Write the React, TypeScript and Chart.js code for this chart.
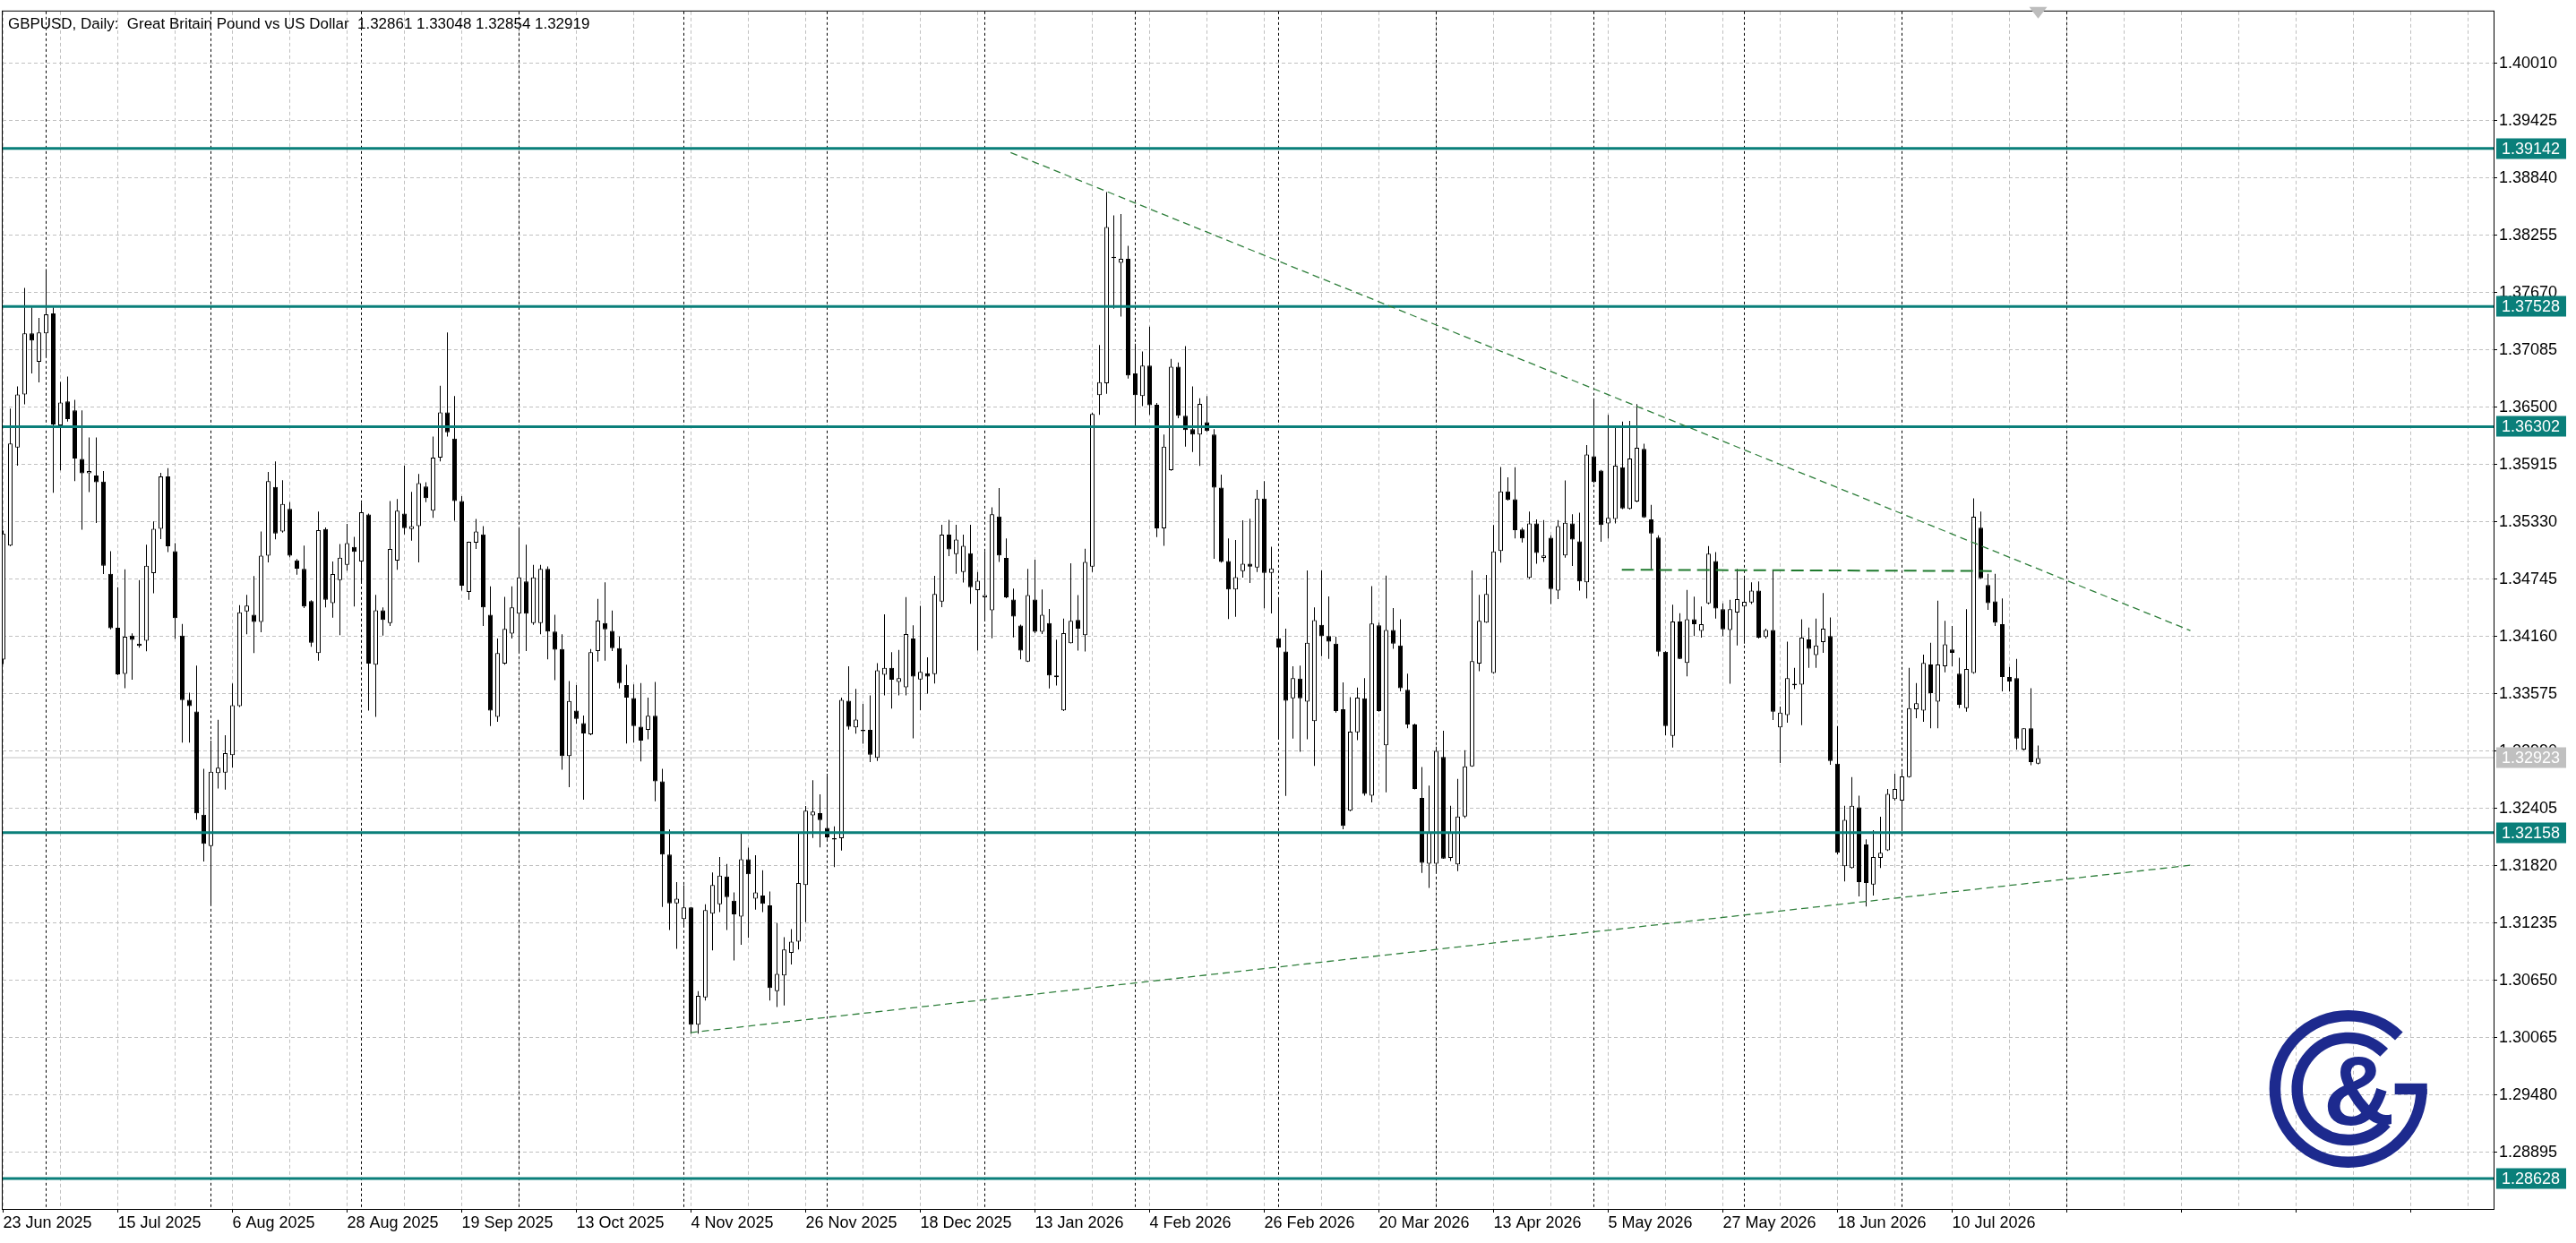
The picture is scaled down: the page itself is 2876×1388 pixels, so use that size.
import React, { useEffect, useRef } from 'react';
import { Chart, registerables } from 'chart.js';

Chart.register(...registerables);

// ---------- DATA (daily GBPUSD candles, bar index 0 = 23 Jun 2025) ----------
const opens = [
  1.33924, 1.35088, 1.36088, 1.36630, 1.37255, 1.36964, 1.37255, 1.37458, 1.36314, 1.36560,
  1.36468, 1.35971, 1.35827, 1.35802, 1.35741, 1.34800, 1.34249, 1.33779, 1.34169, 1.34086,
  1.34117, 1.34806, 1.35260, 1.35793, 1.35030, 1.34169, 1.33514, 1.33395, 1.32341, 1.32022,
  1.32766, 1.32770, 1.32949, 1.33450, 1.34416, 1.34381, 1.34309, 1.34985, 1.35687, 1.35232,
  1.35462, 1.34938, 1.34849, 1.34522, 1.33990, 1.35257, 1.34501, 1.34735, 1.34892, 1.35075,
  1.34926, 1.35406, 1.33871, 1.34428, 1.34296, 1.34934, 1.35415, 1.35257, 1.35287, 1.35691,
  1.35444, 1.35985, 1.36448, 1.36180, 1.35542, 1.34615, 1.35117, 1.35202, 1.34381, 1.33340,
  1.33884, 1.34190, 1.34394, 1.34722, 1.34296, 1.34296, 1.34849, 1.34211, 1.34033, 1.32940,
  1.33403, 1.33276, 1.33161, 1.34012, 1.34296, 1.34216, 1.34041, 1.33663, 1.33531, 1.33238,
  1.33206, 1.33350, 1.32681, 1.31934, 1.31437, 1.31277, 1.31395, 1.30197, 1.30476, 1.31331,
  1.31427, 1.31710, 1.31463, 1.31302, 1.31886, 1.31485, 1.31517, 1.31415, 1.30540, 1.30700,
  1.30931, 1.31046, 1.31623, 1.32334, 1.32357, 1.32206, 1.32101, 1.32101, 1.33504, 1.33232,
  1.33206, 1.33206, 1.32921, 1.33770, 1.33841, 1.33697, 1.33642, 1.34139, 1.33722, 1.33786,
  1.33777, 1.34517, 1.35200, 1.35000, 1.34819, 1.35010, 1.34632, 1.34560, 1.34427, 1.35385,
  1.34961, 1.34538, 1.34271, 1.33905, 1.34538, 1.34208, 1.34297, 1.33745, 1.33406, 1.34092,
  1.34329, 1.34173, 1.34872, 1.36623, 1.36744, 1.38036, 1.37974, 1.38014, 1.36846, 1.36614,
  1.36926, 1.36525, 1.35264, 1.35857, 1.36913, 1.36414, 1.36276, 1.36222, 1.36347, 1.36222,
  1.35679, 1.34930, 1.34640, 1.34828, 1.34903, 1.34863, 1.35567, 1.34810, 1.34141, 1.34008,
  1.33530, 1.33730, 1.33496, 1.33297, 1.34278, 1.34165, 1.34086, 1.33417, 1.32382, 1.33181,
  1.33530, 1.32536, 1.34275, 1.33050, 1.34227, 1.34069, 1.33616, 1.33263, 1.32512, 1.31840,
  1.31840, 1.32930, 1.31901, 1.31833, 1.32323, 1.32834, 1.33884, 1.34302, 1.33788, 1.35033,
  1.35640, 1.35561, 1.35252, 1.34758, 1.35314, 1.34961, 1.35167, 1.34628, 1.34988, 1.35314,
  1.35132, 1.34714, 1.36000, 1.35853, 1.35314, 1.35359, 1.35887, 1.35462, 1.35537, 1.36076,
  1.35355, 1.35170, 1.34004, 1.33146, 1.34313, 1.33891, 1.34336, 1.34217, 1.34498, 1.34930,
  1.34439, 1.34227, 1.34405, 1.34467, 1.34508, 1.34628, 1.34155, 1.34227, 1.33232, 1.33359,
  1.33678, 1.33668, 1.34131, 1.33970, 1.34103, 1.34165, 1.32862, 1.31816, 1.31798, 1.32416,
  1.32038, 1.31627, 1.31901, 1.31977, 1.32502, 1.32484, 1.32724, 1.33417, 1.33404, 1.33874,
  1.33496, 1.33856, 1.34028, 1.33781, 1.33428, 1.33788, 1.35270, 1.34686, 1.34518, 1.34285,
  1.33747, 1.33736, 1.33006, 1.33222, 1.32861,
];

const highs = [
  1.35240, 1.36486, 1.36713, 1.37718, 1.37519, 1.37412, 1.37911, 1.37519, 1.36759, 1.36814,
  1.36575, 1.36468, 1.36192, 1.36192, 1.35848, 1.35030, 1.34662, 1.34846, 1.34193, 1.34736,
  1.35098, 1.35334, 1.35830, 1.35879, 1.35113, 1.34288, 1.33586, 1.33863, 1.32809, 1.33097,
  1.33310, 1.33153, 1.33680, 1.34479, 1.34586, 1.34777, 1.35232, 1.35840, 1.35946, 1.35755,
  1.35530, 1.34950, 1.35087, 1.34530, 1.35436, 1.35274, 1.34926, 1.35104, 1.35309, 1.35177,
  1.35521, 1.35415, 1.34586, 1.34458, 1.35542, 1.35564, 1.35904, 1.35636, 1.35819, 1.35734,
  1.36201, 1.36720, 1.37264, 1.36614, 1.35593, 1.35130, 1.35359, 1.35287, 1.34671, 1.34139,
  1.34564, 1.34671, 1.35266, 1.35096, 1.34892, 1.34892, 1.34875, 1.34381, 1.34182, 1.33706,
  1.33663, 1.33353, 1.34033, 1.34543, 1.34713, 1.34424, 1.34160, 1.33871, 1.33672, 1.33684,
  1.33536, 1.33697, 1.32809, 1.32190, 1.31652, 1.31620, 1.31400, 1.30540, 1.31427, 1.31751,
  1.31908, 1.31838, 1.31549, 1.32152, 1.32004, 1.31927, 1.31774, 1.31556, 1.31235, 1.31091,
  1.31174, 1.32149, 1.32431, 1.32693, 1.32549, 1.32758, 1.32222, 1.33536, 1.33857, 1.33626,
  1.33472, 1.33559, 1.33889, 1.34386, 1.34001, 1.34023, 1.34562, 1.34274, 1.34472, 1.33947,
  1.34780, 1.35300, 1.35350, 1.35300, 1.35200, 1.35300, 1.34819, 1.35028, 1.35478, 1.35674,
  1.35162, 1.34649, 1.34280, 1.34850, 1.34943, 1.34640, 1.34440, 1.34128, 1.34342, 1.34908,
  1.34583, 1.35055, 1.36445, 1.37136, 1.38695, 1.38459, 1.38472, 1.38147, 1.37149, 1.37069,
  1.37323, 1.36543, 1.36222, 1.36993, 1.36958, 1.37123, 1.36713, 1.36592, 1.36614, 1.36276,
  1.35812, 1.35162, 1.35144, 1.35345, 1.35362, 1.35657, 1.35746, 1.35077, 1.34551, 1.34239,
  1.33856, 1.33863, 1.34834, 1.34457, 1.34834, 1.34570, 1.34158, 1.33692, 1.33541, 1.33640,
  1.33736, 1.34673, 1.34302, 1.34782, 1.34450, 1.34337, 1.33781, 1.33270, 1.32827, 1.32639,
  1.33033, 1.33198, 1.32433, 1.32707, 1.32999, 1.34834, 1.34584, 1.34789, 1.35297, 1.35890,
  1.35784, 1.35887, 1.35270, 1.35434, 1.35355, 1.35348, 1.35194, 1.35348, 1.35753, 1.35407,
  1.35424, 1.36113, 1.36583, 1.35860, 1.36422, 1.36309, 1.36353, 1.36360, 1.36532, 1.36127,
  1.35503, 1.35194, 1.34010, 1.34484, 1.34398, 1.34635, 1.34566, 1.34467, 1.35084, 1.35022,
  1.34498, 1.34535, 1.34851, 1.34765, 1.34714, 1.34721, 1.34241, 1.34834, 1.33445, 1.34107,
  1.33839, 1.34336, 1.34251, 1.34343, 1.34604, 1.34354, 1.33246, 1.32433, 1.32724, 1.32536,
  1.32090, 1.32183, 1.32320, 1.32604, 1.32759, 1.32793, 1.33839, 1.33685, 1.33976, 1.34097,
  1.34525, 1.34319, 1.34268, 1.33942, 1.34439, 1.35571, 1.35434, 1.34800, 1.34800, 1.34549,
  1.33850, 1.33932, 1.33222, 1.33633, 1.33048,
];

const lows = [
  1.33880, 1.35080, 1.35904, 1.36529, 1.36845, 1.36753, 1.37013, 1.35628, 1.35855, 1.36354,
  1.35747, 1.35251, 1.35634, 1.35318, 1.34797, 1.34233, 1.33764, 1.33632, 1.33718, 1.34046,
  1.34010, 1.34601, 1.35153, 1.35021, 1.34138, 1.33076, 1.33076, 1.32290, 1.31864, 1.31418,
  1.32608, 1.32596, 1.32821, 1.33440, 1.34182, 1.33990, 1.34203, 1.34917, 1.35151, 1.35220,
  1.34970, 1.34790, 1.34450, 1.34054, 1.33914, 1.34458, 1.34352, 1.34173, 1.34832, 1.34467,
  1.34700, 1.33403, 1.33340, 1.34169, 1.34267, 1.34841, 1.35202, 1.35138, 1.34917, 1.35530,
  1.35372, 1.35946, 1.36201, 1.35342, 1.34628, 1.34535, 1.35053, 1.34267, 1.33246, 1.33289,
  1.33871, 1.34139, 1.34012, 1.34012, 1.34279, 1.34182, 1.33927, 1.33714, 1.32800, 1.32621,
  1.33268, 1.32494, 1.33153, 1.33905, 1.33914, 1.34012, 1.33629, 1.33068, 1.33076, 1.32885,
  1.33110, 1.32479, 1.31399, 1.31165, 1.30972, 1.31200, 1.30107, 1.30107, 1.30444, 1.30956,
  1.31347, 1.31165, 1.30854, 1.31014, 1.31085, 1.31373, 1.31347, 1.30444, 1.30379, 1.30395,
  1.30812, 1.30966, 1.31245, 1.32104, 1.32008, 1.32094, 1.31806, 1.31976, 1.33209, 1.33168,
  1.33065, 1.32879, 1.32889, 1.33559, 1.33424, 1.33559, 1.33559, 1.33120, 1.33408, 1.33578,
  1.33681, 1.34460, 1.34980, 1.34800, 1.34710, 1.34493, 1.34017, 1.34315, 1.34141, 1.34921,
  1.34550, 1.34150, 1.33928, 1.33900, 1.34195, 1.34186, 1.33629, 1.33660, 1.33400, 1.34090,
  1.34017, 1.34008, 1.34819, 1.36423, 1.36637, 1.37506, 1.37426, 1.36793, 1.36311, 1.36512,
  1.36423, 1.35175, 1.35086, 1.35850, 1.36387, 1.36098, 1.36044, 1.35902, 1.36250, 1.34953,
  1.34915, 1.34338, 1.34360, 1.34761, 1.34707, 1.34819, 1.34449, 1.34395, 1.33112, 1.32533,
  1.33119, 1.32982, 1.33112, 1.32838, 1.33959, 1.33932, 1.33383, 1.32193, 1.32375, 1.33102,
  1.32536, 1.32467, 1.33393, 1.32570, 1.34035, 1.33599, 1.33222, 1.32600, 1.31747, 1.31593,
  1.31747, 1.31890, 1.31867, 1.31764, 1.32306, 1.32830, 1.33805, 1.34300, 1.33780, 1.34913,
  1.35548, 1.35160, 1.35120, 1.34748, 1.34903, 1.34920, 1.34491, 1.34542, 1.34964, 1.34879,
  1.34628, 1.34549, 1.35726, 1.35126, 1.35160, 1.35314, 1.35460, 1.35455, 1.35530, 1.35370,
  1.34851, 1.33959, 1.33153, 1.33026, 1.33930, 1.33753, 1.34165, 1.34148, 1.34490, 1.34343,
  1.34165, 1.33678, 1.34069, 1.34086, 1.34491, 1.34140, 1.34140, 1.33307, 1.32868, 1.33280,
  1.33623, 1.33256, 1.33839, 1.33839, 1.33993, 1.32850, 1.31936, 1.31661, 1.31790, 1.31507,
  1.31404, 1.31517, 1.31798, 1.31970, 1.32484, 1.32176, 1.32720, 1.33325, 1.33290, 1.33222,
  1.33222, 1.33795, 1.33856, 1.33428, 1.33393, 1.33780, 1.34750, 1.34433, 1.34268, 1.33599,
  1.33600, 1.33006, 1.32999, 1.32845, 1.32854,
];

const closes = [
  1.35211, 1.36130, 1.36630, 1.37255, 1.37182, 1.37264, 1.37448, 1.36324, 1.36547, 1.36379,
  1.35977, 1.35827, 1.35848, 1.35735, 1.34883, 1.34245, 1.33773, 1.34157, 1.34126, 1.34065,
  1.34883, 1.35260, 1.35793, 1.35082, 1.34347, 1.33510, 1.33450, 1.32354, 1.32043, 1.32779,
  1.32821, 1.32970, 1.33459, 1.34407, 1.34475, 1.34309, 1.34985, 1.35746, 1.35211, 1.35513,
  1.34985, 1.34853, 1.34467, 1.34097, 1.35245, 1.34535, 1.34798, 1.34964, 1.35113, 1.35024,
  1.35428, 1.33884, 1.34428, 1.34330, 1.35053, 1.35444, 1.35266, 1.35287, 1.35725, 1.35572,
  1.35985, 1.36448, 1.36244, 1.35542, 1.34679, 1.35126, 1.35232, 1.34458, 1.33403, 1.33990,
  1.34237, 1.34458, 1.34764, 1.34394, 1.34764, 1.34849, 1.34211, 1.34024, 1.32940, 1.33501,
  1.33318, 1.33170, 1.33999, 1.34322, 1.34233, 1.34041, 1.33684, 1.33535, 1.33246, 1.33097,
  1.33350, 1.32681, 1.31934, 1.31437, 1.31485, 1.31395, 1.30197, 1.30492, 1.31367, 1.31623,
  1.31719, 1.31501, 1.31325, 1.31886, 1.31732, 1.31549, 1.31431, 1.30572, 1.30716, 1.30966,
  1.31046, 1.31645, 1.32383, 1.32373, 1.32286, 1.32110, 1.32088, 1.33514, 1.33238, 1.33312,
  1.33193, 1.32953, 1.33815, 1.33841, 1.33719, 1.33735, 1.34184, 1.33751, 1.33799, 1.33751,
  1.34594, 1.35200, 1.35050, 1.35150, 1.35086, 1.34663, 1.34730, 1.34583, 1.35407, 1.34988,
  1.34560, 1.34364, 1.34017, 1.34583, 1.34208, 1.34382, 1.33763, 1.33763, 1.34195, 1.34320,
  1.34239, 1.34921, 1.36432, 1.36757, 1.38339, 1.38023, 1.38014, 1.36824, 1.36623, 1.36926,
  1.36521, 1.35264, 1.36098, 1.36913, 1.36414, 1.36267, 1.36222, 1.36534, 1.36258, 1.35679,
  1.34921, 1.34640, 1.34765, 1.34903, 1.34872, 1.35567, 1.34810, 1.34855, 1.34048, 1.33504,
  1.33736, 1.33530, 1.34097, 1.34326, 1.34165, 1.34107, 1.33400, 1.32227, 1.33188, 1.33537,
  1.32553, 1.34292, 1.33400, 1.34227, 1.34086, 1.33633, 1.33263, 1.32604, 1.31850, 1.32159,
  1.32992, 1.31894, 1.32159, 1.32323, 1.32834, 1.33908, 1.34319, 1.34594, 1.35029, 1.35640,
  1.35554, 1.35246, 1.35160, 1.35314, 1.35012, 1.34988, 1.34645, 1.35287, 1.35321, 1.35150,
  1.34721, 1.36017, 1.35736, 1.35297, 1.35372, 1.35904, 1.35468, 1.35976, 1.36086, 1.35376,
  1.35211, 1.34004, 1.33246, 1.34313, 1.33932, 1.34336, 1.34285, 1.34285, 1.35005, 1.34446,
  1.34234, 1.34439, 1.34542, 1.34515, 1.34628, 1.34148, 1.34227, 1.33393, 1.33383, 1.33736,
  1.33661, 1.34148, 1.34035, 1.34069, 1.34241, 1.32889, 1.31953, 1.32289, 1.32433, 1.31654,
  1.31644, 1.31908, 1.31953, 1.32553, 1.32604, 1.32731, 1.33428, 1.33479, 1.33891, 1.33582,
  1.33874, 1.34079, 1.33993, 1.33462, 1.33829, 1.35383, 1.34755, 1.34501, 1.34302, 1.33747,
  1.33700, 1.33119, 1.33222, 1.32879, 1.32919,
];

// x-axis date labels, one every BARS_PER_LABEL bars starting at bar 0
const xTickLabels = [
  '23 Jun 2025', '15 Jul 2025', '6 Aug 2025', '28 Aug 2025', '19 Sep 2025', '13 Oct 2025',
  '4 Nov 2025', '26 Nov 2025', '18 Dec 2025', '13 Jan 2026', '4 Feb 2026', '26 Feb 2026',
  '20 Mar 2026', '13 Apr 2026', '5 May 2026', '27 May 2026', '18 Jun 2026', '10 Jul 2026',
];
const BARS_PER_LABEL = 16;
const BARS_PER_GRID = 8;
const GRID_LINE_COUNT = 44;

const yTickValues = [
  1.28895, 1.29480, 1.30065, 1.30650, 1.31235, 1.31820, 1.32405, 1.32990, 1.33575, 1.34160,
  1.34745, 1.35330, 1.35915, 1.36500, 1.37085, 1.37670, 1.38255, 1.38840, 1.39425, 1.40010,
];

// horizontal support / resistance levels
const levelPrices = [1.39142, 1.37528, 1.36302, 1.32158, 1.28628];
const bidPrice = 1.32923;

// first bar of each month (period separators)
const monthStartBars = [6, 29, 50, 72, 95, 115, 137, 158, 178, 200, 222, 243, 265, 288];

// trend lines (bar index, price)
const trendDown = [{ x: 140.6, y: 1.3910 }, { x: 305.25, y: 1.3422 }];
const trendUp = [{ x: 95.9, y: 1.30117 }, { x: 305.25, y: 1.31825 }];
const flatLine = [{ x: 225.9, y: 1.34841 }, { x: 278, y: 1.34828 }];

const titleText = 'GBPUSD, Daily:  Great Britain Pound vs US Dollar  1.32861 1.33048 1.32854 1.32919';

// ---------- STYLE ----------
const X_MIN = -0.0625;
const X_MAX = 347.5625;
const Y_MIN = 1.283167;
const Y_MAX = 1.405398;
const FONT = "'Liberation Sans', Arial, sans-serif";
const TEAL = '#0a7f7a';
const GRID = '#c0c0c0';
const NAVY = '#1d2a8e';
const TREND = '#2f7f3c';
const TITLE_WIDTH = 650;

const overlayPlugin = {
  id: 'mtOverlay',
  beforeDraw(chart: any) {
    const { ctx, width, height } = chart;
    ctx.save();
    ctx.fillStyle = '#ffffff';
    ctx.fillRect(0, 0, width, height);
    ctx.restore();
  },
  beforeDatasetsDraw(chart: any) {
    const { ctx, chartArea: a, scales } = chart;
    const xs = scales.x;
    ctx.save();
    ctx.beginPath();
    ctx.rect(a.left, a.top, a.right - a.left, a.bottom - a.top);
    ctx.clip();
    ctx.strokeStyle = '#000000';
    ctx.lineWidth = 1;
    ctx.setLineDash([3, 3]);
    monthStartBars.forEach((b) => {
      const px = Math.floor(xs.getPixelForValue(b)) + 0.5;
      ctx.beginPath();
      ctx.moveTo(px, a.top);
      ctx.lineTo(px, a.bottom);
      ctx.stroke();
    });
    ctx.restore();
  },
  afterDraw(chart: any) {
    const { ctx, chartArea: a, scales } = chart;
    const ys = scales.y;
    const xs = scales.x;
    ctx.save();
    // frame
    ctx.strokeStyle = '#000000';
    ctx.lineWidth = 1;
    ctx.setLineDash([]);
    ctx.strokeRect(a.left - 0.5, a.top - 0.5, a.right - a.left + 1, a.bottom - a.top + 1);

    // price labels for levels
    ctx.font = `18px ${FONT}`;
    ctx.textBaseline = 'middle';
    ctx.textAlign = 'left';
    const drawTag = (price: number, bg: string) => {
      const py = ys.getPixelForValue(price);
      ctx.fillStyle = bg;
      ctx.fillRect(a.right + 3, Math.round(py) - 11.5, 78, 23);
      ctx.fillStyle = '#ffffff';
      ctx.fillText(price.toFixed(5), a.right + 9, py + 1);
    };
    drawTag(bidPrice, '#c0c0c0');
    levelPrices.forEach((p) => drawTag(p, TEAL));

    // title, sized to its measured width
    ctx.font = `18px ${FONT}`;
    const w18 = ctx.measureText(titleText).width || TITLE_WIDTH;
    const titleSize = (18 * TITLE_WIDTH) / w18;
    ctx.font = `${titleSize.toFixed(2)}px ${FONT}`;
    ctx.fillStyle = '#000000';
    ctx.textBaseline = 'alphabetic';
    ctx.textAlign = 'left';
    ctx.fillText(titleText, 9, 32);

    // chart shift marker
    const sx = xs.getPixelForValue(opens.length - 1);
    ctx.fillStyle = '#bdbdbd';
    ctx.beginPath();
    ctx.moveTo(sx - 10, a.top - 5);
    ctx.lineTo(sx + 10, a.top - 5);
    ctx.lineTo(sx, a.top + 8);
    ctx.closePath();
    ctx.fill();

    // logo
    const cx = a.right - 162.3;
    const cy = a.bottom - 134;
    const rad = (d: number) => (d * Math.PI) / 180;
    ctx.strokeStyle = NAVY;
    ctx.fillStyle = NAVY;
    ctx.lineWidth = 12.5;
    ctx.lineCap = 'butt';
    ctx.beginPath();
    ctx.arc(cx, cy, 81.8, 0, rad(313.8));
    ctx.stroke();
    ctx.fillRect(cx + 52, cy - 6.2, 36, 12.4);
    ctx.beginPath();
    ctx.arc(cx, cy, 57, rad(42), rad(314.5));
    ctx.stroke();
    ctx.font = `bold 110px ${FONT}`;
    ctx.textAlign = 'center';
    ctx.textBaseline = 'alphabetic';
    ctx.fillText('&', cx + 12, cy + 40);
    ctx.restore();
  },
};

export default function App() {
  const ref = useRef<HTMLCanvasElement>(null);

  useEffect(() => {
    const canvas = ref.current;
    if (!canvas) return;
    const idx = opens.map((_, i) => i);
    const wickData = idx.map((i) => ({
      x: i,
      y: [Math.min(lows[i], opens[i], closes[i]), Math.max(highs[i], opens[i], closes[i])],
    }));
    const bodyData = idx.map((i) => ({
      x: i,
      y: [Math.min(opens[i], closes[i]), Math.max(opens[i], closes[i])],
    }));
    const bodyColors = idx.map((i) => (closes[i] >= opens[i] ? '#ffffff' : '#000000'));
    const gridBars = Array.from({ length: GRID_LINE_COUNT }, (_, k) => k * BARS_PER_GRID);

    const hLine = (p: number) => [
      { x: X_MIN - 1, y: p },
      { x: X_MAX + 1, y: p },
    ];

    const chart = new Chart(canvas, {
      type: 'bar',
      data: {
        datasets: [
          {
            type: 'line',
            data: hLine(bidPrice),
            borderColor: '#c4c4c4',
            borderWidth: 1,
            pointRadius: 0,
            order: 6,
          } as any,
          {
            type: 'bar',
            data: wickData,
            backgroundColor: '#000000',
            borderWidth: 0,
            barThickness: 1,
            grouped: false,
            inflateAmount: 0,
            order: 5,
          } as any,
          {
            type: 'bar',
            data: bodyData,
            backgroundColor: bodyColors,
            borderColor: '#000000',
            borderWidth: 1,
            borderSkipped: false,
            barThickness: 5,
            grouped: false,
            inflateAmount: 0,
            minBarLength: 1,
            order: 4,
          } as any,
          ...levelPrices.map(
            (p) =>
              ({
                type: 'line',
                data: hLine(p),
                borderColor: TEAL,
                borderWidth: 3,
                pointRadius: 0,
                order: 3,
              }) as any,
          ),
          {
            type: 'line',
            data: trendDown,
            borderColor: TREND,
            borderWidth: 1.3,
            borderDash: [8, 5],
            pointRadius: 0,
            order: 2,
          } as any,
          {
            type: 'line',
            data: trendUp,
            borderColor: TREND,
            borderWidth: 1.3,
            borderDash: [8, 5],
            pointRadius: 0,
            order: 2,
          } as any,
          {
            type: 'line',
            data: flatLine,
            borderColor: '#1f7a2e',
            borderWidth: 2,
            borderDash: [14, 7],
            pointRadius: 0,
            order: 2,
          } as any,
        ],
      },
      options: {
        responsive: false,
        animation: false,
        devicePixelRatio: 1,
        events: [],
        layout: { padding: { left: 3, top: 12, right: 0, bottom: 0 } },
        plugins: {
          legend: { display: false },
          tooltip: { enabled: false },
          title: { display: false },
        },
        scales: {
          x: {
            type: 'linear',
            min: X_MIN,
            max: X_MAX,
            offset: false,
            afterBuildTicks: (s: any) => {
              s.ticks = gridBars.map((v) => ({ value: v }));
            },
            afterFit: (s: any) => {
              s.height = 38;
            },
            grid: {
              color: GRID,
              lineWidth: 1,
              offset: false,
              drawTicks: true,
              tickLength: 4,
              tickColor: (c: any) =>
                c.tick && c.tick.value % BARS_PER_LABEL === 0 ? '#000000' : 'rgba(0,0,0,0)',
            },
            border: { display: false, dash: [4, 3] },
            ticks: {
              autoSkip: false,
              maxRotation: 0,
              minRotation: 0,
              align: 'start',
              padding: 1,
              color: '#000000',
              font: { family: FONT, size: 18 },
              callback: (v: any) => {
                const n = Number(v);
                if (n % BARS_PER_LABEL !== 0) return '';
                return xTickLabels[n / BARS_PER_LABEL] ?? '';
              },
            },
          },
          y: {
            type: 'linear',
            position: 'right',
            min: Y_MIN,
            max: Y_MAX,
            afterBuildTicks: (s: any) => {
              s.ticks = yTickValues.map((v) => ({ value: v }));
            },
            afterFit: (s: any) => {
              s.width = 92;
            },
            grid: { color: GRID, lineWidth: 1, drawTicks: true, tickLength: 4, tickColor: '#000000' },
            border: { display: false, dash: [4, 3] },
            ticks: {
              autoSkip: false,
              padding: 2,
              color: '#000000',
              font: { family: FONT, size: 18 },
              callback: (v: any) => Number(v).toFixed(5),
            },
          },
        },
      } as any,
      plugins: [overlayPlugin],
    });

    return () => chart.destroy();
  }, []);

  return (
    <div style={{ position: 'fixed', left: 0, top: 0, width: 2876, height: 1388, background: '#ffffff' }}>
      <canvas ref={ref} width={2876} height={1388} style={{ display: 'block', width: 2876, height: 1388 }} />
    </div>
  );
}
